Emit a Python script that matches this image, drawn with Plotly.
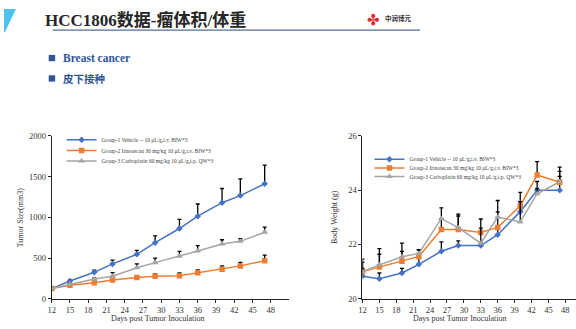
import plotly.graph_objects as go

W, H = 576, 329

# ---------------- data ----------------
days = [12, 15, 19, 22, 26, 29, 33, 36, 40, 43, 47]
x_ticks = [12, 15, 18, 21, 24, 27, 30, 33, 36, 39, 42, 45, 48]

series_names = [
    "Group-1 Vehicle -- 10 \u03bcL/g,i.v. BIW*3",
    "Group-2 Irinotecan 30 mg/kg 10 \u03bcL/g,i.v. BIW*3",
    "Group-3 Carboplatin 60 mg/kg 10 \u03bcL/g,i.p. QW*3",
]

tumor_g1 = [125, 218, 325, 428, 546, 689, 863, 1014, 1180, 1267, 1412]
tumor_g1_err = [0, 15, 28, 47, 48, 83, 111, 150, 174, 206, 230]
tumor_g2 = [125, 165, 198, 230, 262, 278, 282, 321, 364, 404, 467]
tumor_g2_err = [0, 10, 12, 15, 15, 28, 35, 35, 40, 42, 70]
tumor_g3 = [125, 178, 242, 278, 380, 444, 523, 586, 673, 705, 816]
tumor_g3_err = [0, 12, 15, 43, 48, 55, 59, 67, 52, 32, 63]
tumor_ticks = [0, 500, 1000, 1500, 2000]

bw_g1 = [20.83, 20.74, 20.95, 21.27, 21.75, 21.96, 21.96, 22.36, 23.21, 24.0, 24.0]
bw_g1_err = [0.29, 0.21, 0.17, 0.53, 0.35, 0.17, 0.1, 0.3, 0.37, 0.32, 0.51]
bw_g2 = [21.0, 21.17, 21.38, 21.56, 22.55, 22.55, 22.44, 22.63, 23.42, 24.56, 24.29]
bw_g2_err = [0.35, 0.47, 0.37, 0.25, 0.4, 0.5, 0.5, 0.57, 0.5, 0.49, 0.4]
bw_g3 = [21.0, 21.25, 21.55, 21.67, 22.95, 22.62, 22.05, 23.01, 22.83, 23.87, 24.31]
bw_g3_err = [0.46, 0.6, 0.5, 0.13, 0.4, 0.5, 0.55, 0.61, 0.75, 0.2, 0.54]
bw_ticks = [20, 22, 24, 26]

colors = ["#4472C4", "#ED7D31", "#A5A5A5"]
symbols = ["diamond", "square", "triangle-up"]
msizes = [5, 5.5, 6]

SERIF = "Liberation Serif"


def px(x):
    return x / W


def py(y):
    return 1 - y / H


fig = go.Figure()

tumor = [(tumor_g1, tumor_g1_err), (tumor_g2, tumor_g2_err), (tumor_g3, tumor_g3_err)]
bw = [(bw_g1, bw_g1_err), (bw_g2, bw_g2_err), (bw_g3, bw_g3_err)]

for i, (vals, err) in enumerate(tumor):
    fig.add_trace(go.Scatter(
        x=days, y=vals, name=series_names[i], mode="lines+markers",
        line=dict(color=colors[i], width=1.5),
        marker=dict(symbol=symbols[i], size=msizes[i], color=colors[i]),
        error_y=dict(type="data", symmetric=False, array=err, arrayminus=[0] * len(err),
                     color="black", thickness=1.3, width=2),
        xaxis="x", yaxis="y", legend="legend" if i == 0 else f"legend{i + 1}",
    ))

for i, (vals, err) in enumerate(bw):
    fig.add_trace(go.Scatter(
        x=days, y=vals, name=series_names[i], mode="lines+markers",
        line=dict(color=colors[i], width=1.5),
        marker=dict(symbol=symbols[i], size=msizes[i], color=colors[i]),
        error_y=dict(type="data", symmetric=False, array=err, arrayminus=[0] * len(err),
                     color="black", thickness=1.3, width=2),
        xaxis="x2", yaxis="y2", legend=f"legend{i + 4}",
    ))

axis_common = dict(
    showgrid=False, zeroline=False, showline=True, linecolor="#222222", linewidth=1,
    ticks="outside", ticklen=3, tickwidth=1, tickcolor="#222222",
    tickfont=dict(family=SERIF, size=8.5, color="#333333"),
)

left_dom_x = [px(48), px(287)]
right_dom_x = [px(361), 1.0]
dom_y = [py(303), py(135)]

legend_common = dict(
    xanchor="left", yanchor="middle", bgcolor="rgba(0,0,0,0)", borderwidth=0,
    font=dict(family=SERIF, size=5.5, color="#404040"), itemwidth=30,
)
leg_left_y = [139, 150, 161]
leg_right_y = [159, 168, 177]

layout_legends = {}
for i in range(3):
    key = "legend" if i == 0 else f"legend{i + 1}"
    layout_legends[key] = dict(x=px(58), y=py(leg_left_y[i]), **legend_common)
for i in range(3):
    layout_legends[f"legend{i + 4}"] = dict(x=px(368), y=py(leg_right_y[i]), **legend_common)

shapes = [
    # top-left blue accent
    dict(type="path", xref="paper", yref="paper",
         path=f"M {px(0)},{py(4)} L {px(12)},{py(4)} L {px(1)},{py(28)} L {px(0)},{py(28)} Z",
         fillcolor="#4FC1EE", line=dict(width=0)),
    # title underline
    dict(type="line", xref="paper", yref="paper", x0=px(49), x1=px(419), y0=py(26), y1=py(26),
         line=dict(color="#4F6F9F", width=1.2)),
    # bullets
    dict(type="rect", xref="paper", yref="paper", x0=px(45), x1=px(51.5), y0=py(51.5), y1=py(58),
         fillcolor="#2F5597", line=dict(width=0)),
    dict(type="rect", xref="paper", yref="paper", x0=px(45), x1=px(51.5), y0=py(72.5), y1=py(79),
         fillcolor="#2F5597", line=dict(width=0)),
]

annotations = [
    dict(text="<b>HCC1806数据-瘤体积/体重</b>", x=px(39), y=py(15.5), xref="paper", yref="paper",
         xanchor="left", yanchor="middle", showarrow=False,
         font=dict(family="Liberation Serif, Noto Sans CJK SC", size=17, color="#262626")),
    dict(text="<b>Breast cancer</b>", x=px(57), y=py(55), xref="paper", yref="paper",
         xanchor="left", yanchor="middle", showarrow=False,
         font=dict(family=SERIF, size=11.5, color="#2F5597")),
    dict(text="<b>皮下接种</b>", x=px(57), y=py(76), xref="paper", yref="paper",
         xanchor="left", yanchor="middle", showarrow=False,
         font=dict(family="Noto Sans CJK SC", size=10.5, color="#2F5597")),
    dict(text="✤", x=px(372.5), y=py(15.5), xref="paper", yref="paper",
         xanchor="center", yanchor="middle", showarrow=False,
         font=dict(family="DejaVu Sans", size=15, color="#E0282E")),
    dict(text="<b>中润博元</b>", x=px(382), y=py(13.5), xref="paper", yref="paper",
         xanchor="left", yanchor="middle", showarrow=False,
         font=dict(family="Noto Sans CJK SC", size=6.5, color="#333333")),
    # axis titles
    dict(text="Tumor Size(mm3)", x=px(16), y=py(219), xref="paper", yref="paper",
         textangle=-90, xanchor="center", yanchor="middle", showarrow=False,
         font=dict(family=SERIF, size=8, color="#333333")),
    dict(text="Days post Tumor Inoculation", x=px(155), y=py(323), xref="paper", yref="paper",
         xanchor="center", yanchor="middle", showarrow=False,
         font=dict(family=SERIF, size=8, color="#333333")),
    dict(text="Body Weight (g)", x=px(333), y=py(219), xref="paper", yref="paper",
         textangle=-90, xanchor="center", yanchor="middle", showarrow=False,
         font=dict(family=SERIF, size=8, color="#333333")),
    dict(text="Days post Tumor Inoculation", x=px(459), y=py(323), xref="paper", yref="paper",
         xanchor="center", yanchor="middle", showarrow=False,
         font=dict(family=SERIF, size=8, color="#333333")),
]

fig.update_layout(
    width=W, height=H, margin=dict(l=0, r=0, t=0, b=0),
    paper_bgcolor="white", plot_bgcolor="rgba(0,0,0,0)",
    showlegend=True,
    xaxis=dict(domain=left_dom_x, range=[12, 51], tickvals=x_ticks, anchor="y", **axis_common),
    yaxis=dict(domain=dom_y, range=[0, 2000], tickvals=tumor_ticks, anchor="x", **axis_common),
    xaxis2=dict(domain=right_dom_x, range=[12, 49.9], tickvals=x_ticks, anchor="y2", **axis_common),
    yaxis2=dict(domain=dom_y, range=[20, 26], tickvals=bw_ticks, anchor="x2", **axis_common),
    shapes=shapes, annotations=annotations,
    **layout_legends,
)

fig.write_html("out.html")
